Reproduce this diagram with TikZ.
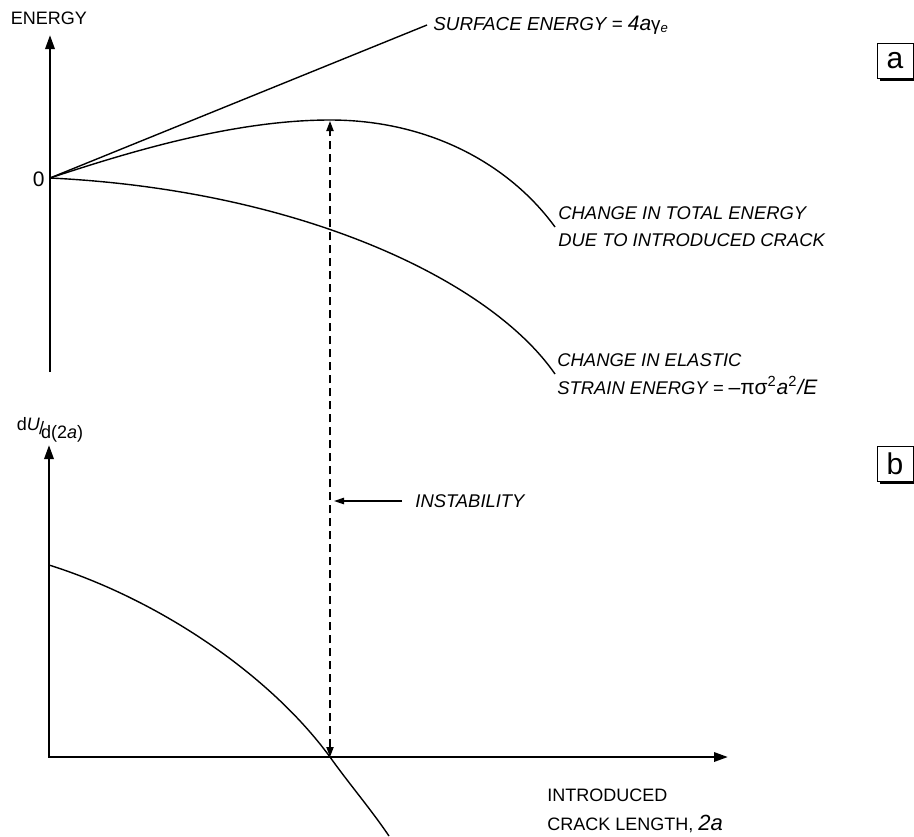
\documentclass[tikz,border=0pt]{standalone}
\usepackage{fontspec}
\setmainfont{Liberation Sans}
\usetikzlibrary{arrows.meta, shadows, positioning}

\begin{document}
\begin{tikzpicture}[x=0.5pt, y=-0.5pt,
    >={Triangle[length=7pt, width=4.6pt]},
    axis/.style={line width=1.3pt, line join=miter},
    curve/.style={line width=0.7pt},
    guide/.style={line width=0.7pt, dash pattern=on 4pt off 2.5pt,
        {Triangle[length=5pt, width=3.6pt]}-{Triangle[length=5pt, width=3.6pt]}},
    lbl/.style={font=\fontsize{9.2}{13.5}\selectfont\itshape, anchor=west, align=left, inner sep=0pt},
    axlbl/.style={font=\fontsize{9}{14.5}\selectfont, inner sep=0pt},
    panel/.style={draw, fill=white, line width=0.5pt, minimum width=18pt, minimum height=17.5pt,
        inner sep=0pt, font=\fontsize{15}{15}\selectfont,
        drop shadow={shadow xshift=1.3pt, shadow yshift=-1.3pt, fill=black, opacity=1}}]

    \useasboundingbox (0,0) rectangle (914,836);

    % Key points
    \coordinate (O) at (50,178);
    \coordinate (Etop) at (50,35);
    \coordinate (Ebot) at (50,372);
    \coordinate (O2) at (49,757);
    \coordinate (Ytop) at (49,445);
    \coordinate (Xend) at (728,757);
    \coordinate (Peak) at (330,121);
    \coordinate (Cross) at (330,757);
    \coordinate (Hit) at (334,501);

    % Panel (a): energy axis
    \draw[axis, ->] (Ebot) -- (Etop);
    \node[axlbl] (energy) at (49,18) {ENERGY};
    \node[axlbl, font=\fontsize{10.5}{12}\selectfont, anchor=east] (zero) at (45,179) {0};

    % Surface energy line
    \node[lbl, font=\fontsize{9.4}{12}\selectfont\itshape] (surf) at (433,25)
        {SURFACE ENERGY = {\fontsize{10.5}{12}\selectfont 4a}\textup{γ}\textsubscript{e}};
    \draw[curve] (O) -- ([xshift=-3pt]surf.west);

    % Total energy curve
    \node[lbl] (total) at (558,227) {CHANGE IN TOTAL ENERGY\\DUE TO INTRODUCED CRACK};
    \draw[curve] (O) .. controls (120,155) and (230,120) .. (330,120)
        .. controls (430,120) and (510,165) .. ([xshift=-1.5pt]total.west);

    % Elastic strain energy curve
    \node[lbl, font=\fontsize{9.2}{14}\selectfont\itshape] (strain) at (557,374)
        {CHANGE IN ELASTIC\\STRAIN ENERGY = {\fontsize{10.5}{14}\selectfont\textup{\textendash πσ}\textsuperscript{\textup{2}}a\textsuperscript{\textup{2}}/E}};
    \draw[curve] (O) .. controls (300,190) and (490,280) .. ([xshift=-1pt]strain.west);

    % Panel (b): derivative axes
    \draw[axis, <->] (Ytop) -- (O2) -- (Xend);
    \node[axlbl] (dUda) at (50,430)
        {d\textit{U}\kern-0.5pt\raisebox{-0.4ex}{/}\kern-1.5pt\raisebox{-0.9ex}{d(2\textit{a})}};
    \node[axlbl, anchor=west, align=left] (crack) at (547,811)
        {INTRODUCED\\CRACK LENGTH, {\fontsize{11}{11}\selectfont\itshape 2a}};
    \draw[curve] (49,565) .. controls (160,600) and (270,675) .. (Cross)
        .. controls (350,785) and (370,808) .. (389,836);

    % Instability
    \draw[guide] (Cross) -- (Peak);
    \node[lbl] (inst) at (415,501) {INSTABILITY};
    \draw[curve, -{Triangle[length=5pt, width=3.2pt]}] ([xshift=-6.5pt]inst.west) -- (Hit);

    % Panel tags
    \node[panel] (tagA) at (895,61) {a};
    \node[panel] (tagB) at (895,464) {b};
\end{tikzpicture}
\end{document}
